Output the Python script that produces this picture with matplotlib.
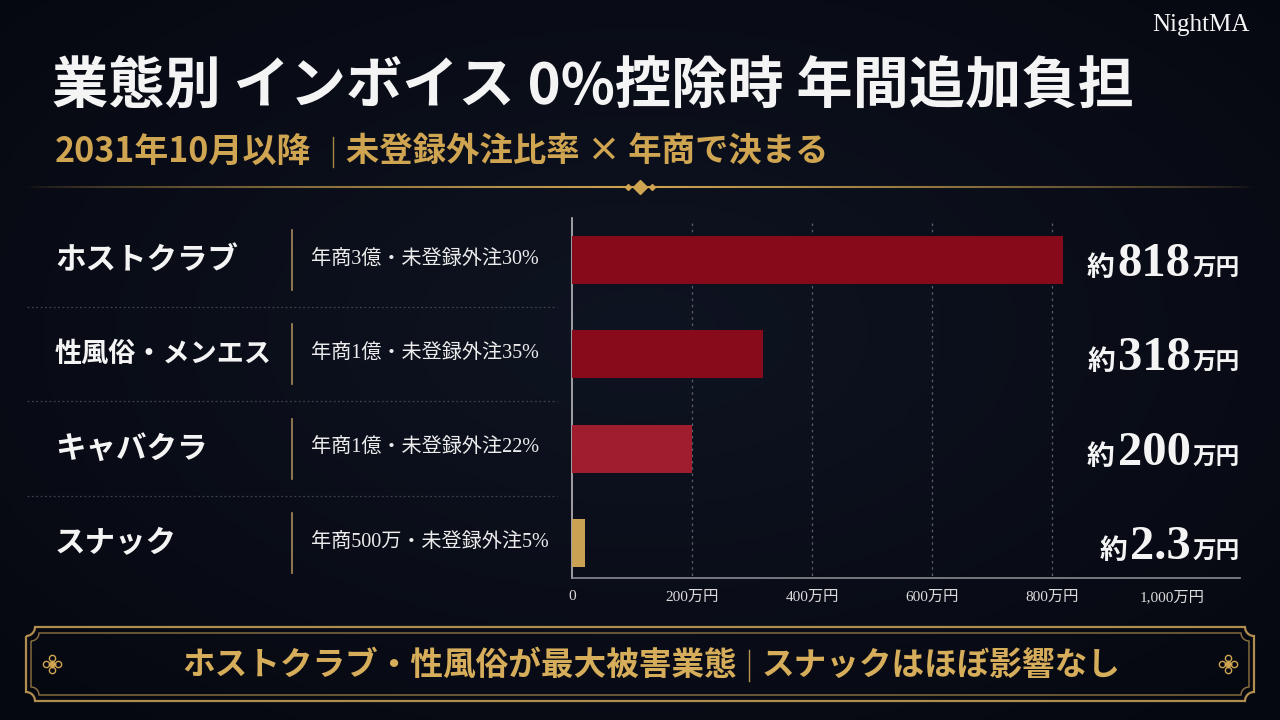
import numpy as np
import matplotlib
matplotlib.use("Agg")
import matplotlib.pyplot as plt
from matplotlib.collections import LineCollection
from matplotlib.path import Path
from matplotlib.patches import PathPatch

# ---------------- data ----------------
categories = ["ホストクラブ", "性風俗・メンエス", "キャバクラ", "スナック"]
details = ["年商3億・未登録外注30%", "年商1億・未登録外注35%",
           "年商1億・未登録外注22%", "年商500万・未登録外注5%"]
burden = [818, 318, 200, 2.3]          # 万円
value_text = ["818", "318", "200", "2.3"]
xticks = [0, 200, 400, 600, 800, 1000]
xtick_labels = ["0", "200万円", "400万円", "600万円", "800万円", "1,000万円"]
grid_ticks = [200, 400, 600, 800]

title = "業態別 インボイス 0%控除時 年間追加負担"
subtitle_a = "2031年10月以降"
subtitle_b = "未登録外注比率 × 年商で決まる"
footer_a = "ホストクラブ・性風俗が最大被害業態"
footer_b = "スナックはほぼ影響なし"
brand = "NightMA"

# ---------------- style ----------------
BG = "#0a0e18"
GOLD = "#cfa552"
WHITE = "#f4f4f4"
bar_colors = ["#860a1a", "#880b1b", "#a01d2d", "#c9a253"]
MIN_VISIBLE = 22  # minimum drawn width so tiny values remain visible

SANS = ["Noto Sans CJK JP", "DejaVu Sans"]
SERIF_MIX = ["Liberation Serif", "Noto Sans CJK JP", "DejaVu Sans"]
plt.rcParams["font.family"] = SANS

W, H = 1280, 720
fig = plt.figure(figsize=(12.8, 7.2), dpi=100, facecolor=BG)
renderer = fig.canvas.get_renderer()

# background axes in pixel coordinates
bg = fig.add_axes([0, 0, 1, 1])
bg.set_xlim(0, W)
bg.set_ylim(H, 0)
bg.axis("off")
yy, xx = np.mgrid[0:H:4, 0:W:4]
r = np.sqrt(((xx - 640) / 900.0) ** 2 + ((yy - 330) / 520.0) ** 2)
c0 = np.array([0x0f, 0x14, 0x22]) / 255.0
c1 = np.array([0x06, 0x08, 0x10]) / 255.0
t = np.clip(r, 0, 1)[..., None]
img = c0 * (1 - t) + c1 * t
bg.imshow(img, extent=[0, W, H, 0], aspect="auto", zorder=0)

def px(x, y):
    return x / W, 1 - y / H

# brand
fig.text(*px(1250, 25), brand, ha="right", va="center", fontsize=18,
         family=["Liberation Serif"], color=WHITE)

# title
fig.text(*px(52, 86), title, ha="left", va="center", fontsize=40.5,
         fontweight="bold", color=WHITE, family=SANS)

# subtitle
fig.text(*px(55, 152), subtitle_a, ha="left", va="center", fontsize=24.5,
         fontweight="bold", color=GOLD, family=SANS)
bg.plot([333, 333], [137, 167], color=GOLD, lw=1, alpha=0.8)
fig.text(*px(346, 152), subtitle_b, ha="left", va="center", fontsize=24,
         fontweight="bold", color=GOLD, family=SANS)

# header divider with fading ends
xs = np.linspace(28, 1252, 300)
segs = [[(xs[i], 187), (xs[i + 1], 187)] for i in range(len(xs) - 1)]
mid = (xs[:-1] + xs[1:]) / 2
alph = np.clip(1 - np.abs(mid - 640) / 612.0, 0, 1) ** 0.6
cols = [(0.81, 0.65, 0.32, a) for a in alph]
bg.add_collection(LineCollection(segs, colors=cols, linewidths=1.5, zorder=2))
bg.plot([640], [187], marker="D", ms=7, color=GOLD, zorder=3)
bg.plot([628, 652], [187, 187], marker="D", ms=3, ls="none", color=GOLD, zorder=3)

# ---------------- chart axes ----------------
x0_px, x1_px = 572, 1240
ytop_px, ybot_px = 218, 578
row_px = 94.3
center0 = 260
ax = fig.add_axes([x0_px / W, 1 - ybot_px / H, (x1_px - x0_px) / W,
                   (ybot_px - ytop_px) / H])
ax.set_facecolor("none")
ax.set_xlim(0, (x1_px - x0_px) / 0.6)
ax.set_ylim(3 + (ybot_px - (center0 + 3 * row_px)) / row_px,
            -(center0 - ytop_px) / row_px)
ypos = np.arange(len(categories))
draw_vals = np.maximum(burden, MIN_VISIBLE)
ax.barh(ypos, draw_vals, height=0.51, color=bar_colors, zorder=3)
ax.vlines(grid_ticks, ax.get_ylim()[1] + 0.05, ax.get_ylim()[0], colors="#5a5f6a",
          linestyles=(0, (2, 3)), linewidth=0.9, zorder=1)
for s in ["top", "right"]:
    ax.spines[s].set_visible(False)
ax.spines["left"].set_color("#b8b8bc")
ax.spines["bottom"].set_color("#8a8a90")
ax.spines["left"].set_linewidth(1.2)
ax.spines["bottom"].set_linewidth(1.2)
ax.set_yticks([])
ax.set_xticks(xticks)
ax.set_xticklabels(xtick_labels, fontsize=11, color="#dcdcdc", family=SERIF_MIX)
ax.tick_params(axis="x", length=0, pad=9)

# ---------------- left labels ----------------
for i, (cat, det) in enumerate(zip(categories, details)):
    cy = center0 + i * row_px
    size = 22 if len(cat) <= 6 else 19.5
    fig.text(*px(55, cy), cat, ha="left", va="center", fontsize=size,
             fontweight="bold", color=WHITE, family=SANS)
    bg.plot([292, 292], [cy - 30, cy + 30], color="#a88a5a", lw=1.2, zorder=2)
    fig.text(*px(311, cy), det, ha="left", va="center", fontsize=14.5,
             color="#ececec", family=SERIF_MIX)
    if i < len(categories) - 1:
        ys = cy + row_px / 2
        bg.plot([27, 557], [ys, ys], color="#3c414d", lw=0.9,
                ls=(0, (1.5, 2)), zorder=2)

# ---------------- value labels (mixed sizes) ----------------
def rich_right(x_right, y_base, pieces):
    x = x_right
    for text, size, fam, gap in reversed(pieces):
        tt = fig.text(x / W, 1 - y_base / H, text, ha="right", va="baseline",
                      fontsize=size, color=WHITE, family=fam, fontweight="bold")
        bb = tt.get_window_extent(renderer)
        x = bb.x0 - gap

for i, vt in enumerate(value_text):
    cy = center0 + i * row_px
    rich_right(1240, cy + 16, [("約", 20, SANS, 1),
                               (vt, 35, ["Liberation Serif"], 3),
                               ("万円", 17, SANS, 2)])

# ---------------- footer box ----------------
def notched_rect(x0, y0, x1, y1, rr, n=12):
    pts = []
    def arc(cx, cy, a0, a1):
        a = np.linspace(a0, a1, n)
        return [(cx + rr * np.cos(t), cy + rr * np.sin(t)) for t in a]
    pts += arc(x0, y0, np.pi / 2, 0)
    pts += arc(x1, y0, np.pi, np.pi / 2)
    pts += arc(x1, y1, 3 * np.pi / 2, np.pi)
    pts += arc(x0, y1, 0, -np.pi / 2)
    pts.append(pts[0])
    return Path(pts)

bg.add_patch(PathPatch(notched_rect(26, 627, 1254, 701, 9), fill=False,
                       ec="#b08d4e", lw=1.6, zorder=3))
bg.add_patch(PathPatch(notched_rect(31, 633, 1249, 695, 8), fill=False,
                       ec="#8f7444", lw=1.0, zorder=3))

for ox in (52, 1228):
    bg.plot([ox], [664], marker="D", ms=3.5, color=GOLD, zorder=4)
    for dx, dy in [(-6, 0), (6, 0), (0, -6), (0, 6)]:
        bg.plot([ox + dx], [664 + dy], marker="o", ms=4.5, mfc="none",
                mec=GOLD, mew=1, zorder=4)

fig.text(*px(737, 665), footer_a, ha="right", va="center", fontsize=23.5,
         fontweight="bold", color="#d6ad5a", family=SANS)
bg.plot([749, 749], [650, 681], color="#b8944f", lw=1, zorder=4)
fig.text(*px(762, 665), footer_b, ha="left", va="center", fontsize=23.5,
         fontweight="bold", color="#d6ad5a", family=SANS)

fig.savefig("out.png", dpi=100, facecolor=BG)
